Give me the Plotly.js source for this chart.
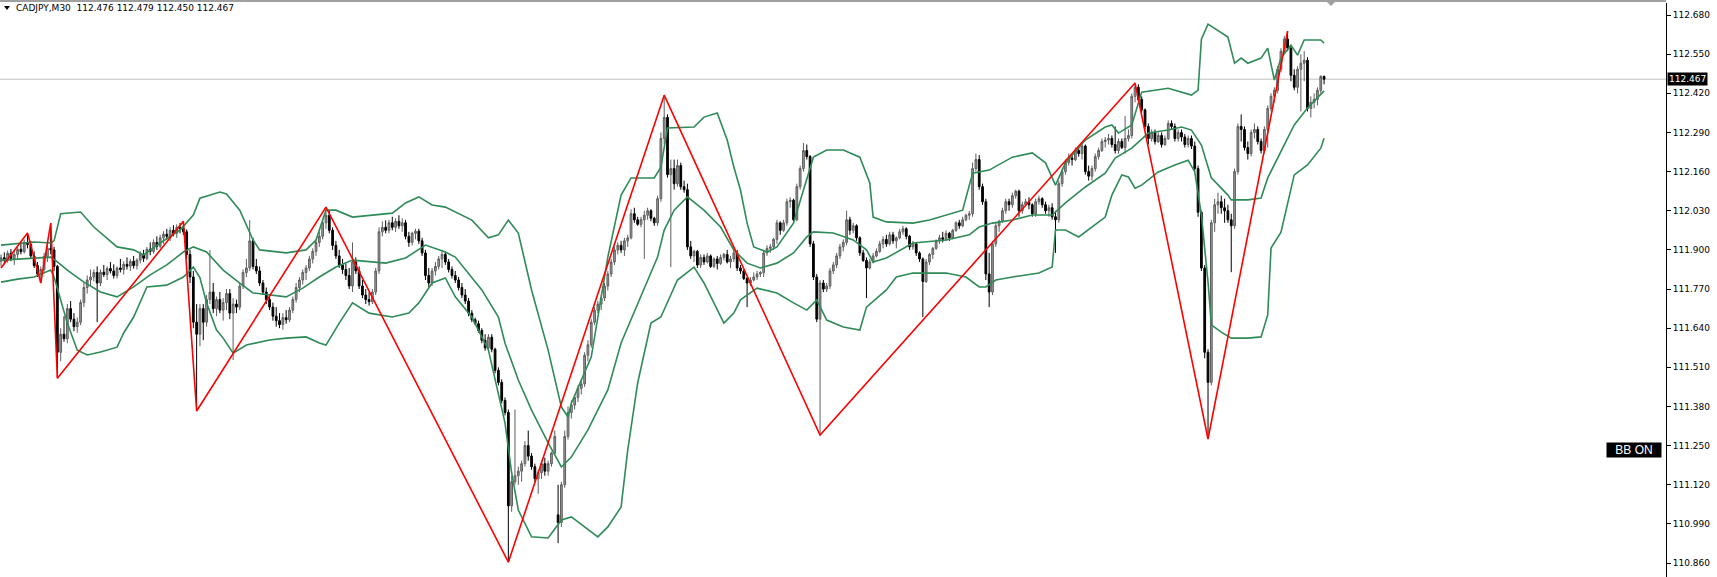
<!DOCTYPE html>
<html><head><meta charset="utf-8">
<script src="https://cdn.plot.ly/plotly-3.0.1.min.js"></script>
<style>html,body{margin:0;padding:0;background:#fff}#chart{width:1717px;height:577px}</style>
</head><body><div id="chart"></div>
<script>
// ---------- DATA ----------
const symbolLabel = 'CADJPY,M30';
const lastOHLC = ['112.476', '112.479', '112.450', '112.467'];
const lastPrice = 112.467;
const bbLabel = 'BB ON';

const openP = [
111.862,111.874,111.866,111.889,111.871,111.885,111.902,111.894,111.925,111.918,
111.88,111.848,111.82,111.835,111.878,111.905,111.9,111.845,111.56,111.62,
111.605,111.705,111.67,111.645,111.66,111.725,111.775,111.8,111.81,111.825,
111.79,111.826,111.818,111.838,111.83,111.815,111.84,111.835,111.852,111.846,
111.862,111.848,111.866,111.886,111.872,111.902,111.895,111.925,111.912,111.94,
111.952,111.945,111.965,111.955,111.975,111.97,111.96,111.885,111.81,111.66,
111.62,111.705,111.66,111.735,111.76,111.705,111.735,111.7,111.725,111.755,
111.69,111.72,111.71,111.78,111.825,111.84,111.93,111.845,111.83,111.79,
111.76,111.735,111.71,111.68,111.665,111.652,111.675,111.668,111.7,111.735,
111.775,111.8,111.825,111.84,111.87,111.895,111.925,111.945,111.99,112.015,
111.965,111.915,111.88,111.85,111.835,111.815,111.78,111.86,111.83,111.78,
111.75,111.735,111.728,111.76,111.83,111.96,111.975,111.965,111.99,111.975,
111.995,111.98,111.99,111.945,111.925,111.955,111.962,111.93,111.89,111.815,
111.79,111.83,111.845,111.87,111.885,111.86,111.835,111.815,111.80,111.775,
111.75,111.73,111.69,111.668,111.655,111.632,111.6,111.575,111.61,111.57,
111.5,111.46,111.4,111.36,111.05,111.13,111.15,111.165,111.19,111.25,
111.215,111.18,111.14,111.16,111.19,111.165,111.19,111.225,111.02,110.995,
111.12,111.28,111.36,111.385,111.41,111.44,111.455,111.55,111.585,111.66,
111.70,111.72,111.74,111.78,111.82,111.86,111.9,111.915,111.9,111.93,
111.94,112.02,112.0,111.985,112.0,112.015,112.03,112.005,111.99,112.07,
112.27,112.34,112.15,112.17,112.12,112.18,112.11,112.1,111.91,111.88,
111.895,111.85,111.875,111.86,111.88,111.845,111.87,111.855,111.875,111.885,
111.86,111.87,111.89,111.84,111.83,111.805,111.79,111.8,111.81,111.82,
111.825,111.89,111.905,111.91,111.935,111.99,111.965,111.99,112.06,112.065,
112.0,112.11,112.17,112.23,112.21,111.92,111.81,111.67,111.79,111.77,
111.78,111.83,111.85,111.88,111.91,111.925,112.0,111.965,111.98,111.94,
111.89,111.865,111.84,111.86,111.88,111.895,111.92,111.935,111.92,111.95,
111.93,111.94,111.96,111.97,111.945,111.91,111.92,111.89,111.87,111.795,
111.86,111.885,111.905,111.93,111.94,111.935,111.955,111.94,111.965,111.99,
111.98,112.0,112.015,112.02,112.17,112.2,112.11,112.06,111.82,111.76,
111.92,111.98,111.995,112.03,112.06,112.05,112.08,112.095,112.03,112.05,
112.06,112.05,112.02,112.06,112.07,112.05,112.03,112.04,112.01,112.0,
112.12,112.16,112.19,112.205,112.2,112.23,112.22,112.245,112.16,112.145,
112.17,112.21,112.23,112.26,112.265,112.27,112.25,112.23,112.26,112.24,
112.27,112.28,112.41,112.44,112.4,112.365,112.31,112.27,112.29,112.26,
112.28,112.25,112.27,112.32,112.31,112.27,112.29,112.275,112.25,112.27,
112.245,112.17,112.025,111.84,111.56,111.46,111.99,112.05,112.06,112.04,
112.03,112.0,111.98,112.16,112.31,112.3,112.24,112.22,112.29,112.3,
112.26,112.23,112.3,112.37,112.41,112.43,112.5,112.56,112.6,112.57,
112.48,112.44,112.5,112.52,112.53,112.37,112.39,112.4,112.43,112.476
];
const highP = [
111.885,111.892,111.898,111.903,111.897,111.912,111.925,111.935,111.956,111.93,
111.895,111.86,111.845,111.89,111.92,111.989,111.91,111.85,111.64,111.68,
111.72,111.73,111.69,111.675,111.735,111.79,111.815,111.835,111.835,111.845,
111.835,111.85,111.845,111.86,111.852,111.845,111.87,111.862,111.875,111.87,
111.88,111.872,111.895,111.9,111.91,111.925,111.935,111.945,111.95,111.962,
111.97,111.975,111.982,111.985,111.99,111.995,111.968,111.9,111.83,111.72,
111.72,111.72,111.75,111.9,111.79,111.745,111.76,111.74,111.77,111.77,
111.74,111.735,111.79,111.835,111.87,111.999,111.94,111.87,111.845,111.8,
111.775,111.75,111.725,111.71,111.69,111.69,111.70,111.71,111.745,111.79,
111.81,111.835,111.85,111.88,111.905,111.935,111.96,112.0,112.042,112.03,
111.975,111.93,111.9,111.87,111.855,111.84,111.925,111.875,111.845,111.8,
111.77,111.76,111.77,111.84,111.975,111.995,111.998,112.0,112.01,112.005,
112.015,112.005,112.0,111.96,111.96,111.97,111.97,111.94,111.9,111.84,
111.84,111.86,111.88,111.9,111.895,111.87,111.845,111.83,111.81,111.79,
111.77,111.74,111.70,111.675,111.665,111.64,111.62,111.62,111.62,111.575,
111.51,111.47,111.41,111.37,111.15,111.37,111.18,111.2,111.265,111.3,
111.225,111.19,111.17,111.2,111.21,111.2,111.23,111.3,111.12,111.13,
111.3,111.38,111.4,111.42,111.45,111.47,111.56,111.6,111.67,111.71,
111.73,111.75,111.79,111.83,111.87,111.91,111.925,111.93,111.94,111.95,
112.035,112.04,112.01,112.01,112.03,112.04,112.035,112.01,112.08,112.29,
112.414,112.35,112.2,112.2,112.2,112.19,112.13,112.12,111.93,111.9,
111.9,111.885,111.885,111.89,111.885,111.875,111.88,111.885,111.89,111.9,
111.88,111.9,111.9,111.85,111.835,111.81,111.81,111.825,111.83,111.83,
111.9,111.915,111.92,111.94,112.0,111.995,112.0,112.07,112.075,112.07,
112.12,112.18,112.255,112.25,112.215,111.93,111.82,111.8,111.8,111.79,
111.84,111.86,111.89,111.92,111.935,112.03,112.01,111.99,111.985,111.945,
111.9,111.875,111.87,111.89,111.905,111.93,111.945,111.95,111.96,111.96,
111.945,111.97,111.98,111.975,111.95,111.93,111.925,111.895,111.875,111.87,
111.89,111.91,111.935,111.95,111.96,111.965,111.96,111.97,111.995,112.0,
112.01,112.02,112.03,112.19,112.22,112.215,112.12,112.07,111.89,111.93,
111.99,112.0,112.04,112.07,112.07,112.09,112.1,112.1,112.06,112.07,
112.075,112.055,112.07,112.08,112.075,112.06,112.05,112.055,112.03,112.13,
112.17,112.2,112.22,112.215,112.24,112.245,112.255,112.25,112.18,112.18,
112.22,112.24,112.27,112.275,112.285,112.28,112.31,112.27,112.27,112.345,
112.3,112.42,112.454,112.45,112.41,112.37,112.32,112.3,112.3,112.29,
112.29,112.28,112.33,112.33,112.32,112.3,112.3,112.285,112.28,112.28,
112.26,112.18,112.03,111.85,111.57,112.0,112.07,112.09,112.08,112.07,
112.05,112.02,112.17,112.32,112.35,112.31,112.26,112.3,112.32,112.31,
112.27,112.31,112.38,112.42,112.44,112.51,112.57,112.61,112.627,112.58,
112.5,112.51,112.55,112.56,112.54,112.41,112.42,112.44,112.48,112.479
];
const lowP = [
111.845,111.855,111.858,111.862,111.85,111.872,111.885,111.888,111.905,111.872,
111.84,111.81,111.79,111.828,111.86,111.885,111.83,111.474,111.53,111.595,
111.59,111.66,111.63,111.625,111.65,111.71,111.755,111.78,111.795,111.66,
111.78,111.81,111.8,111.822,111.805,111.805,111.825,111.818,111.835,111.83,
111.838,111.835,111.855,111.86,111.865,111.882,111.888,111.9,111.905,111.92,
111.935,111.93,111.945,111.94,111.955,111.95,111.87,111.79,111.64,111.365,
111.58,111.6,111.645,111.72,111.69,111.68,111.69,111.665,111.7,111.67,
111.534,111.69,111.70,111.77,111.81,111.83,111.835,111.82,111.78,111.75,
111.72,111.7,111.665,111.645,111.64,111.635,111.655,111.66,111.69,111.725,
111.76,111.785,111.8,111.83,111.855,111.88,111.91,111.935,111.97,111.955,
111.9,111.87,111.84,111.82,111.80,111.77,111.76,111.82,111.77,111.74,
111.72,111.715,111.72,111.75,111.82,111.945,111.955,111.955,111.965,111.96,
111.97,111.96,111.935,111.91,111.915,111.935,111.92,111.88,111.8,111.775,
111.78,111.815,111.835,111.84,111.85,111.825,111.805,111.79,111.765,111.74,
111.72,111.68,111.66,111.65,111.625,111.59,111.565,111.565,111.56,111.49,
111.45,111.39,111.35,110.863,111.03,111.12,111.12,111.13,111.18,111.2,
111.17,111.13,111.09,111.14,111.15,111.15,111.18,111.22,110.926,110.98,
111.11,111.27,111.34,111.37,111.395,111.42,111.445,111.53,111.575,111.65,
111.69,111.70,111.73,111.765,111.81,111.85,111.885,111.89,111.88,111.91,
111.935,111.99,111.98,111.975,111.87,112.0,111.995,111.98,111.98,112.06,
112.25,112.14,111.843,112.1,112.11,112.1,112.09,111.9,111.87,111.86,
111.84,111.84,111.85,111.855,111.84,111.84,111.835,111.85,111.865,111.855,
111.84,111.86,111.83,111.82,111.8,111.71,111.78,111.795,111.8,111.81,
111.81,111.88,111.89,111.9,111.92,111.95,111.96,111.98,112.04,111.995,
111.995,112.1,112.16,112.2,111.91,111.8,111.66,111.285,111.76,111.76,
111.77,111.82,111.84,111.87,111.895,111.915,111.95,111.955,111.93,111.88,
111.86,111.74,111.835,111.855,111.875,111.89,111.905,111.91,111.915,111.92,
111.905,111.935,111.95,111.935,111.9,111.9,111.88,111.86,111.677,111.79,
111.85,111.87,111.9,111.92,111.925,111.93,111.93,111.935,111.96,111.97,
111.975,111.995,112.0,112.01,112.16,112.1,112.05,111.8,111.71,111.75,
111.91,111.96,111.99,112.02,112.03,112.04,112.07,112.01,112.02,112.045,
112.035,112.01,112.01,112.05,112.04,112.02,112.01,112.0,111.89,111.99,
112.11,112.15,112.18,112.18,112.195,112.21,112.2,112.15,112.13,112.13,
112.16,112.2,112.225,112.24,112.25,112.24,112.22,112.22,112.235,112.22,
112.26,112.27,112.39,112.39,112.355,112.3,112.25,112.26,112.25,112.255,
112.24,112.245,112.265,112.3,112.26,112.26,112.26,112.24,112.24,112.235,
112.16,112.01,111.83,111.54,111.272,111.45,111.96,112.02,112.02,111.99,
111.99,111.826,111.97,112.15,112.26,112.23,112.2,112.21,112.27,112.25,
112.22,112.22,112.24,112.36,112.39,112.42,112.49,112.55,112.56,112.46,
112.43,112.42,112.36,112.46,112.36,112.34,112.37,112.38,112.42,112.45
];
const closeP = [
111.874,111.866,111.889,111.871,111.885,111.902,111.894,111.925,111.918,111.88,
111.848,111.82,111.835,111.878,111.905,111.9,111.845,111.56,111.62,111.605,
111.705,111.67,111.645,111.66,111.725,111.775,111.8,111.81,111.825,111.79,
111.826,111.818,111.838,111.83,111.815,111.84,111.835,111.852,111.846,111.862,
111.848,111.866,111.886,111.872,111.902,111.895,111.925,111.912,111.94,111.952,
111.945,111.965,111.955,111.975,111.97,111.96,111.885,111.81,111.66,111.62,
111.705,111.66,111.735,111.76,111.705,111.735,111.7,111.725,111.755,111.69,
111.72,111.71,111.78,111.825,111.84,111.93,111.845,111.83,111.79,111.76,
111.735,111.71,111.68,111.665,111.652,111.675,111.668,111.7,111.735,111.775,
111.8,111.825,111.84,111.87,111.895,111.925,111.945,111.99,112.015,111.965,
111.915,111.88,111.85,111.835,111.815,111.78,111.86,111.83,111.78,111.75,
111.735,111.728,111.76,111.83,111.96,111.975,111.965,111.99,111.975,111.995,
111.98,111.99,111.945,111.925,111.955,111.962,111.93,111.89,111.815,111.79,
111.83,111.845,111.87,111.885,111.86,111.835,111.815,111.80,111.775,111.75,
111.73,111.69,111.668,111.655,111.632,111.6,111.575,111.61,111.57,111.5,
111.46,111.4,111.36,111.05,111.13,111.15,111.165,111.19,111.25,111.215,
111.18,111.14,111.16,111.19,111.165,111.19,111.225,111.28,110.995,111.12,
111.28,111.36,111.385,111.41,111.44,111.455,111.55,111.585,111.66,111.70,
111.72,111.74,111.78,111.82,111.86,111.9,111.915,111.9,111.93,111.94,
112.02,112.0,111.985,112.0,112.015,112.03,112.005,111.99,112.07,112.27,
112.34,112.15,112.17,112.12,112.18,112.11,112.1,111.91,111.88,111.895,
111.85,111.875,111.86,111.88,111.845,111.87,111.855,111.875,111.885,111.86,
111.87,111.89,111.84,111.83,111.805,111.79,111.8,111.81,111.82,111.825,
111.89,111.905,111.91,111.935,111.99,111.965,111.99,112.06,112.065,112.0,
112.11,112.17,112.23,112.21,111.92,111.81,111.67,111.79,111.77,111.78,
111.83,111.85,111.88,111.91,111.925,112.0,111.965,111.98,111.94,111.89,
111.865,111.84,111.86,111.88,111.895,111.92,111.935,111.92,111.95,111.93,
111.94,111.96,111.97,111.945,111.91,111.92,111.89,111.87,111.795,111.86,
111.885,111.905,111.93,111.94,111.935,111.955,111.94,111.965,111.99,111.98,
112.0,112.015,112.02,112.17,112.2,112.11,112.06,111.82,111.76,111.92,
111.98,111.995,112.03,112.06,112.05,112.08,112.095,112.03,112.05,112.06,
112.05,112.02,112.06,112.07,112.05,112.03,112.04,112.01,112.0,112.12,
112.16,112.19,112.205,112.2,112.23,112.22,112.245,112.16,112.145,112.17,
112.21,112.23,112.26,112.265,112.27,112.25,112.23,112.26,112.24,112.27,
112.28,112.41,112.44,112.4,112.365,112.31,112.27,112.29,112.26,112.28,
112.25,112.27,112.32,112.31,112.27,112.29,112.275,112.25,112.27,112.245,
112.17,112.025,111.84,111.56,111.46,111.99,112.05,112.06,112.04,112.03,
112.0,111.98,112.16,112.31,112.3,112.24,112.22,112.29,112.3,112.26,
112.23,112.3,112.37,112.41,112.43,112.5,112.56,112.6,112.57,112.48,
112.44,112.5,112.52,112.53,112.37,112.39,112.4,112.43,112.476,112.467
];

// Bollinger bands (bar number, price)
const upperX = [0,10,15,16,18,24,28,35,40,43,48,54,58,60,66,68,72,76,78,86,92,95,98,101,106,112,118,122,126,130,134,142,147,150,153,156,160,165,169,171,172,178,183,187,190,197,199,201,209,212,216,219,221,223,225,227,231,234,239,242,245,249,254,259,262,263,267,275,280,290,293,298,305,311,315,318,321,327,333,335,337,341,344,352,359,361,362,364,370,372,374,376,380,382,384,386,389,391,393,398,399];
const upperY = [111.916,111.926,111.923,111.93,112.02,112.026,111.976,111.91,111.90,111.883,111.923,111.966,112.016,112.072,112.092,112.086,112.032,111.933,111.90,111.89,111.90,111.933,112.032,112.032,112.009,112.016,112.022,112.056,112.076,112.049,112.042,111.999,111.94,111.95,111.999,111.956,111.767,111.567,111.378,111.345,111.391,111.544,111.876,112.082,112.139,112.139,112.175,112.305,112.308,112.341,112.355,112.265,112.175,112.099,111.989,111.91,111.893,111.91,111.989,112.099,112.208,112.232,112.232,112.208,112.122,112.009,111.993,111.989,111.999,112.032,112.155,112.165,112.208,112.222,112.189,112.115,112.189,112.265,112.308,112.315,112.288,112.315,112.424,112.437,112.414,112.431,112.6,112.65,112.607,112.52,112.537,112.52,112.537,112.57,112.464,112.537,112.58,112.547,112.597,112.597,112.587];
const midX = [0,10,15,17,20,25,30,35,40,45,50,55,58,62,67,72,76,86,91,96,101,106,116,122,128,134,137,145,150,152,156,160,165,169,172,177,183,187,193,198,200,203,207,212,217,221,225,229,234,239,243,245,251,257,261,263,267,275,285,292,295,299,305,311,317,321,327,333,336,341,346,352,356,359,362,365,370,371,376,380,382,386,390,394,398,399];
const midY = [111.866,111.873,111.876,111.86,111.833,111.793,111.76,111.744,111.777,111.817,111.85,111.893,111.91,111.893,111.833,111.79,111.757,111.744,111.773,111.81,111.843,111.866,111.856,111.873,111.916,111.893,111.876,111.767,111.677,111.59,111.468,111.368,111.259,111.179,111.212,111.302,111.435,111.591,111.744,111.876,111.966,112.032,112.076,112.032,111.976,111.90,111.856,111.84,111.856,111.89,111.943,111.96,111.956,111.933,111.90,111.86,111.873,111.923,111.933,111.95,111.976,111.989,111.999,112.016,112.016,112.056,112.109,112.155,112.205,112.238,112.288,112.298,112.308,112.298,112.248,112.139,112.082,112.066,112.066,112.072,112.139,112.225,112.315,112.371,112.414,112.428];
const lowerX = [0,5,10,15,16,18,20,23,26,30,35,37,40,44,50,55,58,60,62,65,67,70,74,81,86,92,96,98,102,106,111,118,123,126,130,134,137,142,147,152,154,156,160,165,169,172,177,180,183,187,189,192,196,199,204,209,212,215,218,221,223,228,234,239,243,246,249,254,259,261,267,270,275,285,291,295,297,300,305,313,317,318,321,325,329,333,335,338,340,342,344,349,354,358,360,362,364,365,368,371,376,380,382,383,386,390,394,398,399];
const lowerY = [111.793,111.803,111.81,111.833,111.81,111.734,111.657,111.567,111.551,111.561,111.577,111.624,111.677,111.777,111.783,111.81,111.843,111.807,111.724,111.634,111.607,111.557,111.584,111.601,111.607,111.611,111.591,111.584,111.657,111.724,111.69,111.677,111.69,111.724,111.79,111.807,111.744,111.677,111.567,111.325,111.159,111.036,110.947,110.943,111.003,111.013,110.97,110.947,110.98,111.046,111.235,111.458,111.657,111.677,111.80,111.843,111.79,111.724,111.657,111.69,111.734,111.773,111.757,111.724,111.70,111.734,111.667,111.644,111.634,111.71,111.767,111.81,111.823,111.823,111.81,111.777,111.777,111.80,111.81,111.823,111.843,111.966,111.966,111.943,111.976,112.009,112.082,112.149,112.142,112.105,112.115,112.159,112.182,112.198,112.159,112.016,111.793,111.651,111.627,111.607,111.607,111.611,111.684,111.906,111.959,112.149,112.182,112.238,112.271];

// ZigZag vertices (bar number, price)
const zigzagX = [0,8,12,15,17,55,59,98,153,200,247,342,364,388];
const zigzagY = [111.84,111.956,111.79,111.989,111.474,111.995,111.365,112.042,110.863,112.414,111.285,112.454,111.272,112.627];

// Right price scale ticks
const yTickVals = [110.86,110.99,111.12,111.25,111.38,111.51,111.64,111.77,111.90,112.03,112.16,112.29,112.42,112.55,112.68];
const yTickText = ['110.860','110.990','111.120','111.250','111.380','111.510','111.640','111.770','111.900','112.030','112.160','112.290','112.420','112.550','112.680'];

// ---------- LAYOUT / DRAW ----------
const W = 1717, H = 577, ML = 0, MR = 51, MT = 3, MB = 0;
const PW = W - ML - MR, PH = H - MT - MB;
const px2x = x => (x - ML) / PW;          // pixel -> paper x
const px2y = y => (H - MB - y) / PH;      // pixel -> paper y

const barIdx = openP.map((_, i) => i);
const greenBB = '#2e8b57';

const traces = [
  {
    type: 'candlestick', x: barIdx, open: openP, high: highP, low: lowP, close: closeP,
    increasing: { line: { color: '#5e5e5e', width: 1 }, fillcolor: '#9a9a9a' },
    decreasing: { line: { color: '#000000', width: 1 }, fillcolor: '#000000' },
    whiskerwidth: 0, hoverinfo: 'skip', showlegend: false
  },
  { type: 'scatter', mode: 'lines', x: upperX, y: upperY, line: { color: greenBB, width: 1.6 }, hoverinfo: 'skip', showlegend: false },
  { type: 'scatter', mode: 'lines', x: midX, y: midY, line: { color: greenBB, width: 1.6 }, hoverinfo: 'skip', showlegend: false },
  { type: 'scatter', mode: 'lines', x: lowerX, y: lowerY, line: { color: greenBB, width: 1.6 }, hoverinfo: 'skip', showlegend: false },
  { type: 'scatter', mode: 'lines', x: zigzagX, y: zigzagY, line: { color: '#ff0000', width: 1.6 }, hoverinfo: 'skip', showlegend: false }
];

const fontUI = 'DejaVu Sans, Verdana, sans-serif';

const layout = {
  width: W, height: H,
  margin: { l: ML, r: MR, t: MT, b: MB, pad: 0 },
  paper_bgcolor: '#ffffff', plot_bgcolor: '#ffffff',
  showlegend: false,
  boxgap: 0.25,
  font: { family: fontUI, size: 9, color: '#000' },
  xaxis: {
    range: [(0 - 1) / 3.316, (PW - 1) / 3.316],
    showgrid: false, zeroline: false, showticklabels: false, ticks: '',
    showline: false, rangeslider: { visible: false }, fixedrange: true
  },
  yaxis: {
    side: 'right', range: [110.8136, 112.72],
    tickvals: yTickVals, ticktext: yTickText,
    ticks: 'outside', ticklen: 4, tickwidth: 1, tickcolor: '#000',
    showline: true, linecolor: '#000', linewidth: 1,
    showgrid: false, zeroline: false, fixedrange: true,
    tickfont: { family: fontUI, size: 9, color: '#000' }
  },
  shapes: [
    // top border
    { type: 'line', xref: 'paper', yref: 'paper', x0: 0, x1: 1, y0: px2y(1), y1: px2y(1), line: { color: '#a0a0a0', width: 2 } },
    // current price line
    { type: 'line', xref: 'paper', yref: 'y', x0: 0, x1: 1, y0: lastPrice, y1: lastPrice, line: { color: '#c0c0c0', width: 1 }, layer: 'below' },
    // title triangle
    { type: 'path', xref: 'paper', yref: 'paper',
      path: `M ${px2x(4)},${px2y(6)} L ${px2x(10)},${px2y(6)} L ${px2x(7)},${px2y(10)} Z`,
      fillcolor: '#000', line: { width: 0 } },
    // chart shift marker
    { type: 'path', xref: 'paper', yref: 'paper',
      path: `M ${px2x(1326)},${px2y(1)} L ${px2x(1336)},${px2y(1)} L ${px2x(1331)},${px2y(6)} Z`,
      fillcolor: '#a0a0a0', line: { width: 0 } }
  ],
  annotations: [
    { xref: 'paper', yref: 'paper', x: px2x(14), y: px2y(8.5), xanchor: 'left', yanchor: 'middle',
      text: symbolLabel + '  ' + lastOHLC.join(' '), showarrow: false,
      font: { family: fontUI, size: 9, color: '#000' } },
    { xref: 'paper', yref: 'y', x: 1, y: lastPrice, xanchor: 'left', yanchor: 'middle', xshift: 1,
      text: lastPrice.toFixed(3), showarrow: false, bgcolor: '#000', borderpad: 1,
      font: { family: fontUI, size: 9, color: '#fff' } },
    { xref: 'paper', yref: 'paper', x: px2x(1662), y: px2y(450), xanchor: 'right', yanchor: 'middle',
      text: bbLabel, showarrow: false, bgcolor: '#000', width: 52, height: 12, borderpad: 1,
      font: { family: 'Liberation Sans, Arial, sans-serif', size: 12, color: '#fff' } }
  ]
};

Plotly.newPlot('chart', traces, layout, { staticPlot: true, displayModeBar: false });
</script>
</body></html>
